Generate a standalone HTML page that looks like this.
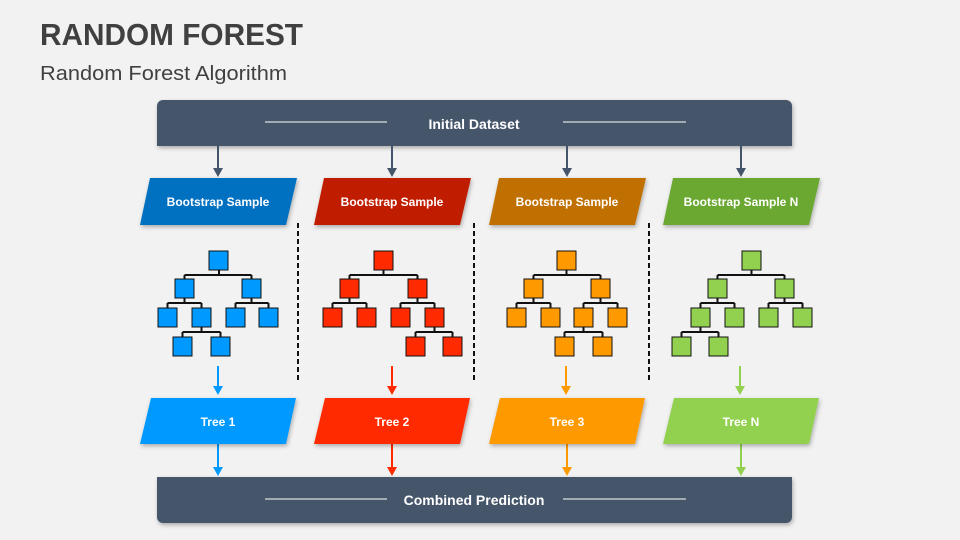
<!DOCTYPE html>
<html><head><meta charset="utf-8"><style>
html,body{margin:0;padding:0;background:#f2f2f2;}
svg{display:block;font-family:"Liberation Sans",sans-serif;}
</style></head><body>
<svg width="960" height="540" viewBox="0 0 960 540" xmlns="http://www.w3.org/2000/svg">
<defs>
<filter id="sh" x="-5%" y="-10%" width="110%" height="130%"><feDropShadow dx="1" dy="2" stdDeviation="2" flood-color="#000" flood-opacity="0.3"/></filter>
</defs>
<rect width="960" height="540" fill="#f2f2f2"/>
<text x="40" y="45" font-size="31" font-weight="bold" fill="#404040" textLength="263" lengthAdjust="spacingAndGlyphs">RANDOM FOREST</text>
<text x="40" y="80" font-size="20" fill="#404040" textLength="247" lengthAdjust="spacingAndGlyphs">Random Forest Algorithm</text>

<!-- top bar -->
<path d="M157 146V106a6 6 0 0 1 6-6H786a6 6 0 0 1 6 6V146Z" fill="#44546a" filter="url(#sh)"/>
<line x1="265" y1="122" x2="387" y2="122" stroke="#fff" stroke-width="1"/>
<line x1="563" y1="122" x2="686" y2="122" stroke="#fff" stroke-width="1"/>
<text x="474" y="129" font-size="14" font-weight="bold" fill="#fff" text-anchor="middle">Initial Dataset</text>

<!-- bottom bar -->
<path d="M157 477H792V517a6 6 0 0 1 -6 6H163a6 6 0 0 1 -6 -6Z" fill="#44546a" filter="url(#sh)"/>
<line x1="265" y1="499" x2="387" y2="499" stroke="#fff" stroke-width="1"/>
<line x1="563" y1="499" x2="686" y2="499" stroke="#fff" stroke-width="1"/>
<text x="474" y="505" font-size="14" font-weight="bold" fill="#fff" text-anchor="middle">Combined Prediction</text>

<!-- top arrows -->
<g stroke="#44546a" stroke-width="2" fill="#44546a">
<line x1="218" y1="146" x2="218" y2="169"/><path d="M213 168h10l-5 9z" stroke="none"/>
<line x1="392" y1="146" x2="392" y2="169"/><path d="M387 168h10l-5 9z" stroke="none"/>
<line x1="567" y1="146" x2="567" y2="169"/><path d="M562 168h10l-5 9z" stroke="none"/>
<line x1="741" y1="146" x2="741" y2="169"/><path d="M736 168h10l-5 9z" stroke="none"/>
</g>

<!-- bootstrap parallelograms -->
<g filter="url(#sh)">
<polygon points="150,178 297,178 286,225 140,225" fill="#0070c0"/>
<polygon points="324,178 471,178 460,225 314,225" fill="#c01f00"/>
<polygon points="499,178 646,178 635,225 489,225" fill="#c07000"/>
<polygon points="673,178 820,178 809,225 663,225" fill="#6aa831"/>
</g>
<g font-size="12" font-weight="bold" fill="#fff" text-anchor="middle">
<text x="218" y="206">Bootstrap Sample</text>
<text x="392" y="206">Bootstrap Sample</text>
<text x="567" y="206">Bootstrap Sample</text>
<text x="741" y="206">Bootstrap Sample N</text>
</g>

<!-- dashed separators -->
<g stroke="#111" stroke-width="2" stroke-dasharray="5,3">
<line x1="298" y1="223" x2="298" y2="381"/>
<line x1="474" y1="223" x2="474" y2="381"/>
<line x1="649" y1="223" x2="649" y2="381"/>
</g>

<!-- tree connectors -->
<g stroke="#111" stroke-width="2" fill="none">
<path d="M219 270V275M184.5 275H251.5M184.5 275V279M251.5 275V279
M184.5 298V303M167.5 303H201.5M167.5 303V308M201.5 303V308
M251.5 298V303M235.5 303H268.5M235.5 303V308M268.5 303V308
M201.5 327V332M182.5 332H220.5M182.5 332V337M220.5 332V337"/>
<path d="M383.5 270V275M349.5 275H417.5M349.5 275V279M417.5 275V279
M349.5 298V303M332.5 303H366.5M332.5 303V308M366.5 303V308
M417.5 298V303M400.5 303H434.5M400.5 303V308M434.5 303V308
M434.5 327V332M415.5 332H452.5M415.5 332V337M452.5 332V337"/>
<path d="M566.5 270V275M533.5 275H600.5M533.5 275V279M600.5 275V279
M533.5 298V303M516.5 303H550.5M516.5 303V308M550.5 303V308
M600.5 298V303M583.5 303H617.5M583.5 303V308M617.5 303V308
M583.5 327V332M564.5 332H602.5M564.5 332V337M602.5 332V337"/>
<path d="M751.5 270V275M717.5 275H784.5M717.5 275V279M784.5 275V279
M717.5 298V303M700.5 303H734.5M700.5 303V308M734.5 303V308
M784.5 298V303M768.5 303H802.5M768.5 303V308M802.5 303V308
M700.5 327V332M681.5 332H718.5M681.5 332V337M718.5 332V337"/>
</g>

<!-- tree nodes -->
<g stroke="#111" stroke-width="1">
<g fill="#0099ff">
<rect x="209" y="251" width="19" height="19"/>
<rect x="175" y="279" width="19" height="19"/><rect x="242" y="279" width="19" height="19"/>
<rect x="158" y="308" width="19" height="19"/><rect x="192" y="308" width="19" height="19"/><rect x="226" y="308" width="19" height="19"/><rect x="259" y="308" width="19" height="19"/>
<rect x="173" y="337" width="19" height="19"/><rect x="211" y="337" width="19" height="19"/>
</g>
<g fill="#ff2a00">
<rect x="374" y="251" width="19" height="19"/>
<rect x="340" y="279" width="19" height="19"/><rect x="408" y="279" width="19" height="19"/>
<rect x="323" y="308" width="19" height="19"/><rect x="357" y="308" width="19" height="19"/><rect x="391" y="308" width="19" height="19"/><rect x="425" y="308" width="19" height="19"/>
<rect x="406" y="337" width="19" height="19"/><rect x="443" y="337" width="19" height="19"/>
</g>
<g fill="#ff9900">
<rect x="557" y="251" width="19" height="19"/>
<rect x="524" y="279" width="19" height="19"/><rect x="591" y="279" width="19" height="19"/>
<rect x="507" y="308" width="19" height="19"/><rect x="541" y="308" width="19" height="19"/><rect x="574" y="308" width="19" height="19"/><rect x="608" y="308" width="19" height="19"/>
<rect x="555" y="337" width="19" height="19"/><rect x="593" y="337" width="19" height="19"/>
</g>
<g fill="#92d050">
<rect x="742" y="251" width="19" height="19"/>
<rect x="708" y="279" width="19" height="19"/><rect x="775" y="279" width="19" height="19"/>
<rect x="691" y="308" width="19" height="19"/><rect x="725" y="308" width="19" height="19"/><rect x="759" y="308" width="19" height="19"/><rect x="793" y="308" width="19" height="19"/>
<rect x="672" y="337" width="19" height="19"/><rect x="709" y="337" width="19" height="19"/>
</g>
</g>

<!-- colored arrows -->
<g stroke-width="2">
<g stroke="#0099ff" fill="#0099ff">
<line x1="218" y1="366" x2="218" y2="387"/><path d="M213 386h10l-5 9z" stroke="none"/>
<line x1="218" y1="444" x2="218" y2="468"/><path d="M213 467h10l-5 9z" stroke="none"/>
</g>
<g stroke="#ff2a00" fill="#ff2a00">
<line x1="392" y1="366" x2="392" y2="387"/><path d="M387 386h10l-5 9z" stroke="none"/>
<line x1="392" y1="444" x2="392" y2="468"/><path d="M387 467h10l-5 9z" stroke="none"/>
</g>
<g stroke="#ff9900" fill="#ff9900">
<line x1="566" y1="366" x2="566" y2="387"/><path d="M561 386h10l-5 9z" stroke="none"/>
<line x1="567" y1="444" x2="567" y2="468"/><path d="M562 467h10l-5 9z" stroke="none"/>
</g>
<g stroke="#92d050" fill="#92d050">
<line x1="740" y1="366" x2="740" y2="387"/><path d="M735 386h10l-5 9z" stroke="none"/>
<line x1="741" y1="444" x2="741" y2="468"/><path d="M736 467h10l-5 9z" stroke="none"/>
</g>
</g>

<!-- tree parallelograms -->
<g filter="url(#sh)">
<polygon points="151,398 296,398 286,444 140,444" fill="#0099ff"/>
<polygon points="325,398 470,398 460,444 314,444" fill="#ff2a00"/>
<polygon points="500,398 645,398 635,444 489,444" fill="#ff9900"/>
<polygon points="674,398 819,398 809,444 663,444" fill="#92d050"/>
</g>
<g font-size="12" font-weight="bold" fill="#fff" text-anchor="middle">
<text x="218" y="426">Tree 1</text>
<text x="392" y="426">Tree 2</text>
<text x="567" y="426">Tree 3</text>
<text x="741" y="426">Tree N</text>
</g>
</svg>
</body></html>
